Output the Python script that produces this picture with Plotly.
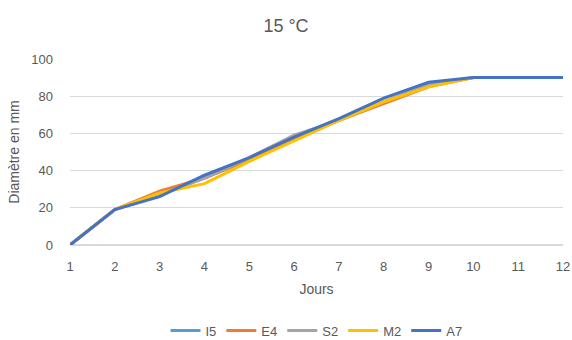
import plotly.graph_objects as go

jours = [1, 2, 3, 4, 5, 6, 7, 8, 9, 10, 11, 12]
I5 = [0, 19, 27, 36, 46, 57, 67, 77, 86, 90, 90, 90]
E4 = [0, 19, 29, 36, 46, 57, 67, 76, 85, 90, 90, 90]
S2 = [0, 19, 27, 36, 47, 59, 67, 77, 86, 90, 90, 90]
M2 = [0, 19, 28, 33, 45, 56, 67, 77, 85, 90, 90, 90]
A7 = [0, 19, 26, 37.5, 47, 58, 68, 79, 87.5, 90, 90, 90]

series = [("I5", I5, "#5B9BD5"), ("E4", E4, "#ED7D31"), ("S2", S2, "#A5A5A5"),
          ("M2", M2, "#FFC000"), ("A7", A7, "#4472C4")]

fig = go.Figure()
for name, vals, col in series:
    fig.add_trace(go.Scatter(x=jours, y=vals, name=name, mode="lines",
                             line=dict(color=col, width=3)))

font = "Liberation Sans, Arial, sans-serif"
fig.update_layout(
    width=572, height=340,
    margin=dict(l=70, r=9, t=59, b=95, autoexpand=False),
    paper_bgcolor="white", plot_bgcolor="white",
    font=dict(family=font, color="#595959", size=13),
    title=dict(text="15 °C", x=0.5, xanchor="center", y=0.925, yanchor="middle",
               font=dict(size=18, color="#595959")),
    xaxis=dict(range=[1, 12], tickvals=jours, showgrid=False, zeroline=False,
               showline=False, ticks="", ticklabelstandoff=12, automargin=False,
               title=dict(text="Jours", standoff=11, font=dict(size=14)),
               tickfont=dict(size=13)),
    yaxis=dict(range=[0, 100], dtick=20, showgrid=True, gridcolor="#D9D9D9",
               gridwidth=1, zeroline=True, zerolinecolor="#D9D9D9", showline=False,
               ticks="", ticklabelstandoff=16, automargin=False,
               title=dict(text="Diamètre en mm", standoff=8, font=dict(size=14)),
               tickfont=dict(size=13)),
    legend=dict(orientation="h", x=0.5, xanchor="center", y=-0.46, yanchor="middle",
                font=dict(size=13), itemwidth=30, tracegroupgap=0),
)

fig.write_html("out.html")
